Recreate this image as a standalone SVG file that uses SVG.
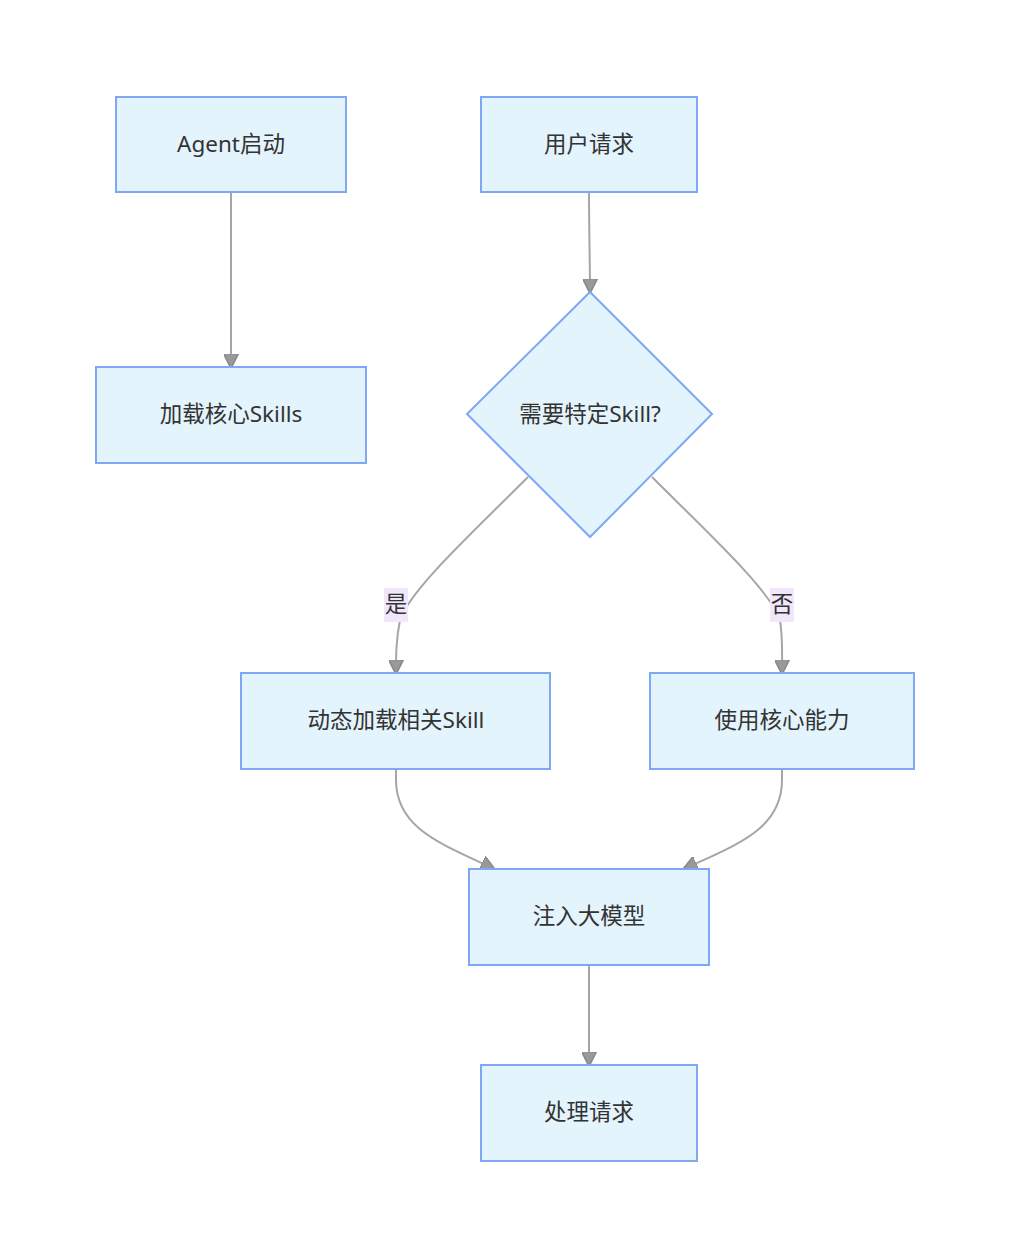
<svg xmlns="http://www.w3.org/2000/svg" width="1010" height="1257" viewBox="0 0 1010 1257">
<defs>
<style>
.node rect,.node polygon{fill:#E4F4FD;stroke:#7EA8F5;stroke-width:2}
.node text{font-family:"Noto Sans","Noto Sans CJK SC",sans-serif;font-size:22.5px;fill:#333;text-anchor:middle;dominant-baseline:central}
.edge{fill:none;stroke:#A6A6A6;stroke-width:2}
.lbl rect{fill:#F1E6FA}
.lbl text{font-family:"Noto Sans","Noto Sans CJK SC",sans-serif;font-size:22.5px;fill:#333;text-anchor:middle;dominant-baseline:central}
</style>
<marker id="arr" viewBox="0 0 10 10" refX="9" refY="5" markerWidth="7.5" markerHeight="7.5" markerUnits="strokeWidth" orient="auto">
<path d="M0,0 L10,5 L0,10 z" fill="#999" stroke="#888" stroke-width="1"/>
</marker>
</defs>
<rect width="1010" height="1257" fill="#fff"/>
<g id="connectors">
<path class="edge" d="M231,192 L231,367" marker-end="url(#arr)"/>
<path class="edge" d="M589,192 C589,230 590,260 590,292" marker-end="url(#arr)"/>
<path class="edge" d="M528,477 C470,535 410,590 400,620 C396,640 396,655 396,673" marker-end="url(#arr)"/>
<path class="edge" d="M652,477 C710,535 770,590 780,620 C783,640 782,655 782,673" marker-end="url(#arr)"/>
<path class="edge" d="M396,769 L396,780 C396,830 445,845 494,869" marker-end="url(#arr)"/>
<path class="edge" d="M782,769 L782,780 C782,830 735,845 684,869" marker-end="url(#arr)"/>
<path class="edge" d="M589,965 L589,1065" marker-end="url(#arr)"/>
</g>
<g id="edge-labels">
<g class="lbl" id="label-yes"><rect x="384" y="588" width="24" height="34"/><text x="396" y="603">是</text></g>
<g class="lbl" id="label-no"><rect x="770" y="588" width="24" height="34"/><text x="782" y="603">否</text></g>
</g>
<g id="node-agent" class="node"><rect x="116" y="97" width="230" height="95"/><text x="231" y="143">Agent启动</text></g>
<g id="node-user" class="node"><rect x="481" y="97" width="216" height="95"/><text x="589" y="143">用户请求</text></g>
<g id="node-core" class="node"><rect x="96" y="367" width="270" height="96"/><text x="231" y="413">加载核心Skills</text></g>
<g id="node-decide" class="node"><polygon points="590,292 712,414 590,537 467,414"/><text x="590" y="413">需要特定Skill?</text></g>
<g id="node-dynamic" class="node"><rect x="241" y="673" width="309" height="96"/><text x="396" y="719">动态加载相关Skill</text></g>
<g id="node-usecore" class="node"><rect x="650" y="673" width="264" height="96"/><text x="782" y="719">使用核心能力</text></g>
<g id="node-inject" class="node"><rect x="469" y="869" width="240" height="96"/><text x="589" y="915">注入大模型</text></g>
<g id="node-process" class="node"><rect x="481" y="1065" width="216" height="96"/><text x="589" y="1111">处理请求</text></g>
</svg>
